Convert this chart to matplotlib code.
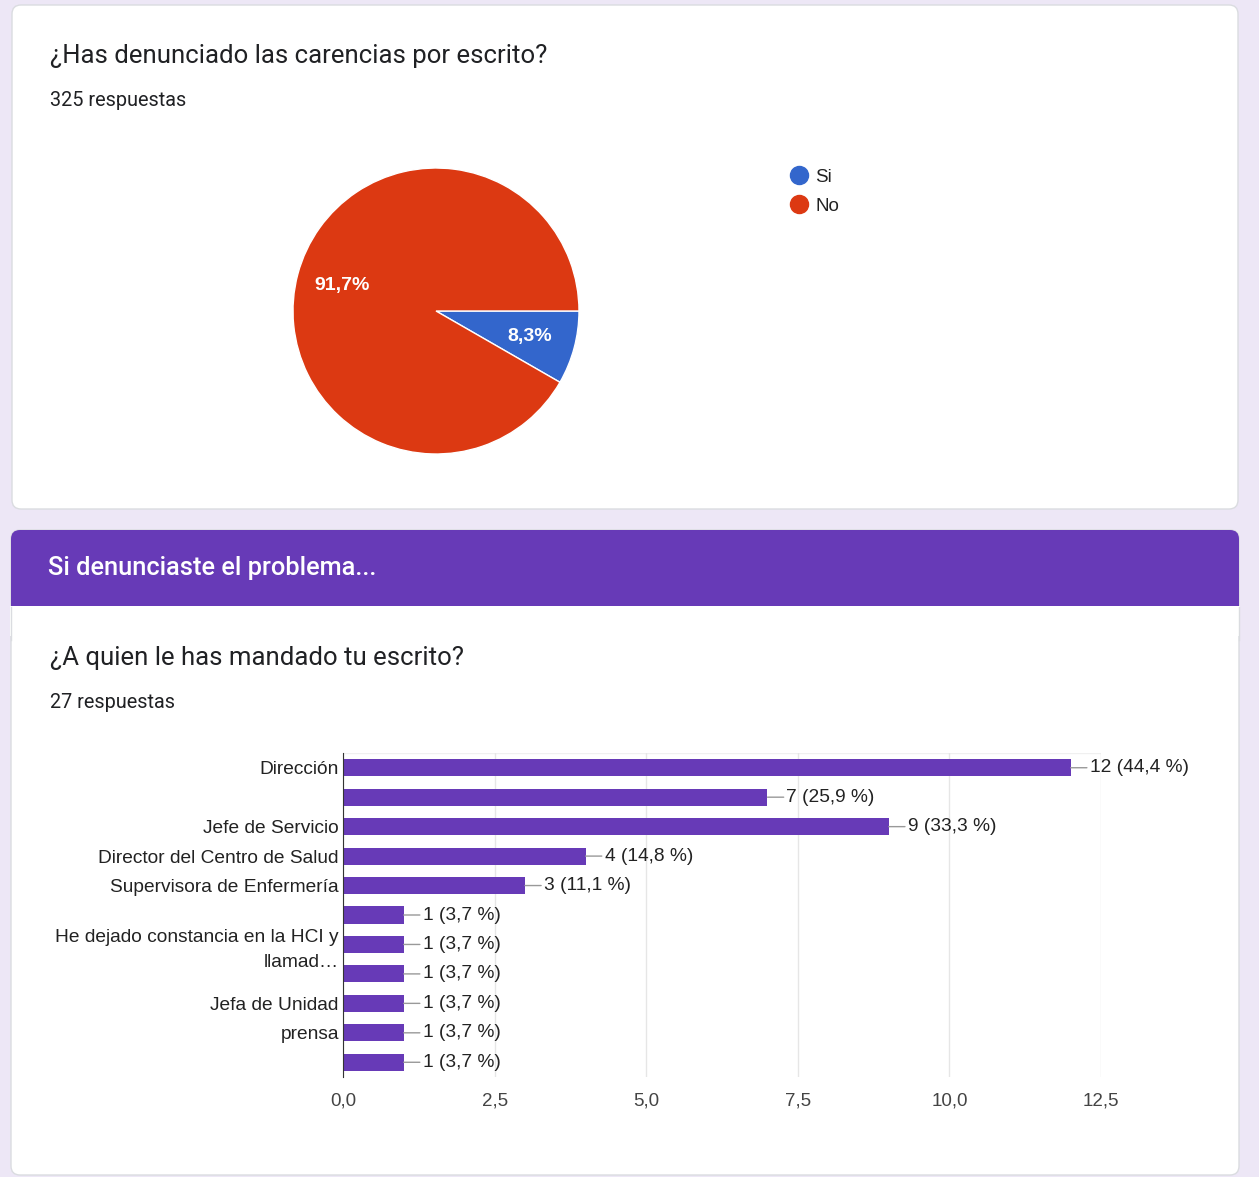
import matplotlib
matplotlib.use("Agg")
import matplotlib.pyplot as plt
from matplotlib.patches import FancyBboxPatch, Rectangle
from matplotlib.lines import Line2D

# --- data ---
pie_labels = ["Si", "No"]
pie_counts = [27, 298]
pie_colors = ["#3366cc", "#dc3912"]

bar_labels = ["Dirección", "", "Jefe de Servicio", "Director del Centro de Salud",
              "Supervisora de Enfermería", "", "He dejado constancia en la HCI y\nllamad…",
              "", "Jefa de Unidad", "prensa", ""]
bar_values = [12, 7, 9, 4, 3, 1, 1, 1, 1, 1, 1]
bar_pcts = ["44,4", "25,9", "33,3", "14,8", "11,1", "3,7", "3,7", "3,7", "3,7", "3,7", "3,7"]
xticks = [0, 2.5, 5, 7.5, 10, 12.5]

W, H = 1259, 1177
purple = "#673ab7"
border = "#dadce0"
chart_font = ["Liberation Sans", "DejaVu Sans"]
title_font = ["Roboto", "DejaVu Sans"]

fig = plt.figure(figsize=(W / 100, H / 100), dpi=100)
fig.patch.set_facecolor("#ede7f6")

# background cards, drawn in pixel coordinates
bg = fig.add_axes([0, 0, 1, 1])
bg.set_xlim(0, W)
bg.set_ylim(H, 0)
bg.axis("off")

bg.add_patch(FancyBboxPatch((12, 5), 1226, 504, boxstyle="round,pad=0,rounding_size=9",
                            fc="white", ec=border, lw=1))
bg.add_patch(FancyBboxPatch((11, 530), 1228, 645, boxstyle="round,pad=0,rounding_size=9",
                            fc="white", ec=border, lw=1))
bg.add_patch(FancyBboxPatch((11, 530), 1228, 100, boxstyle="round,pad=0,rounding_size=9",
                            fc=purple, ec="none"))
bg.add_patch(Rectangle((10, 606), 1230, 30, fc="white", ec="none"))
bg.plot([11, 11], [606.5, 640], color=border, lw=1)
bg.plot([1239, 1239], [606.5, 640], color=border, lw=1)
bg.set_xlim(0, W)
bg.set_ylim(H, 0)

bg.text(50, 56, "¿Has denunciado las carencias por escrito?", fontsize=18.5,
        family=title_font, color="#202124", va="center")
bg.text(50, 100, "325 respuestas", fontsize=14.3, family=title_font, color="#202124", va="center")
bg.text(48, 568, "Si denunciaste el problema...", fontsize=18.3, family=title_font,
        color="white", va="center", weight="medium")
bg.text(50, 658, "¿A quien le has mandado tu escrito?", fontsize=18.5,
        family=title_font, color="#202124", va="center")
bg.text(50, 702, "27 respuestas", fontsize=14.3, family=title_font, color="#202124", va="center")

# --- pie ---
cx, cy, r = 436, 311, 143
pax = fig.add_axes([(cx - r) / W, (H - cy - r) / H, 2 * r / W, 2 * r / H])
wedges, _, autotexts = pax.pie(
    pie_counts, colors=pie_colors, startangle=0, counterclock=False,
    autopct=lambda p: f"{p:.1f}%".replace(".", ","), pctdistance=0.68,
    wedgeprops=dict(edgecolor="white", linewidth=1))
for t in autotexts:
    t.set_color("white")
    t.set_fontsize(14)
    t.set_family(chart_font)
    t.set_weight("bold")
pax.set_xlim(-1, 1)
pax.set_ylim(-1, 1)

handles = [Line2D([], [], marker="o", ls="none", markersize=13, color=c) for c in pie_colors]
leg = fig.legend(handles, pie_labels, loc="upper left", bbox_to_anchor=(763 / W, 1 - 152 / H),
                 frameon=False, handletextpad=-0.1, labelspacing=0.62,
                 prop=dict(family=chart_font, size=13.5))
for t in leg.get_texts():
    t.set_color("#222222")

# --- horizontal bars ---
left, right, top, bottom = 343, 1101, 753, 1077
bax = fig.add_axes([left / W, (H - bottom) / H, (right - left) / W, (bottom - top) / H])
ypos = list(range(len(bar_values)))
bax.barh(ypos, bar_values, height=0.58, color=purple, zorder=3)
for y, v, p in zip(ypos, bar_values, bar_pcts):
    bax.annotate(f"{v} ({p} %)", xy=(v, y), xytext=(19, 0), textcoords="offset pixels",
                 va="center", ha="left", fontsize=13.8, family=chart_font, color="#222222",
                 arrowprops=dict(arrowstyle="-", color="#999999", lw=1, shrinkA=0, shrinkB=0))
bax.set_xlim(0, 12.5)
bax.set_ylim(len(bar_values) - 0.5, -0.5)
bax.set_yticks(ypos)
bax.set_yticklabels(bar_labels, family=chart_font, fontsize=13.8, color="#222222",
                    linespacing=1.55)
bax.set_xticks(xticks)
bax.set_xticklabels([f"{x:.1f}".replace(".", ",") for x in xticks],
                    family=chart_font, fontsize=13.5, color="#444444")
bax.tick_params(axis="y", length=0, pad=3)
bax.tick_params(axis="x", length=0, pad=11)
bax.grid(axis="x", color="#e6e6e6", lw=1, zorder=0)
for s in ["top", "right", "bottom"]:
    bax.spines[s].set_visible(False)
bax.spines["left"].set_color("#333333")
bax.spines["left"].set_zorder(4)
bax.axhline(-0.5, color="#f0f0f0", lw=1, zorder=1)
bax.set_facecolor("none")

fig.savefig("out.png", dpi=100)
